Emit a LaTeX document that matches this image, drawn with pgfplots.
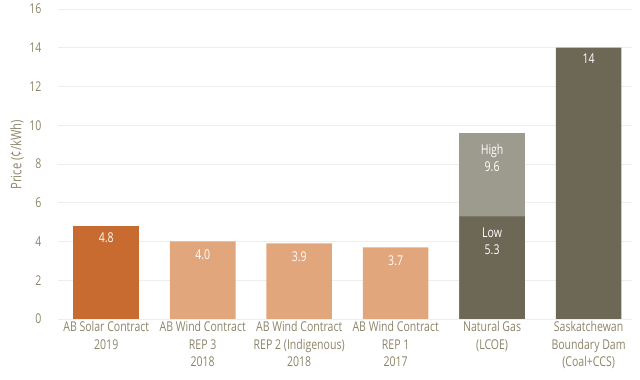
\documentclass[border=0pt]{standalone}
\usepackage{fontspec}
\setmainfont[FakeStretch=0.78]{Open Sans}
\usepackage{pgfplots}
\pgfplotsset{compat=1.18}
\definecolor{solar}{HTML}{C86B30}
\definecolor{wind}{HTML}{E2A67D}
\definecolor{darkc}{HTML}{6D6756}
\definecolor{lightc}{HTML}{9D9B8E}
\definecolor{txt}{HTML}{8C8569}
\definecolor{gridc}{HTML}{EEEEEA}
\begin{document}
\begin{tikzpicture}[x=1pt,y=1pt]
\useasboundingbox (0,0) rectangle (640,380);
\begin{axis}[
  at={(58pt,61pt)}, anchor=south west,
  scale only axis, width=574pt, height=310pt,
  xmin=-0.5, xmax=5.45, ymin=0, ymax=16,
  ytick={0,2,...,16},
  xtick={0,1,2,3,4,5},
  xticklabels={{AB Solar Contract\\2019},{AB Wind Contract\\REP 3\\2018},{AB Wind Contract\\REP 2 (Indigenous)\\2018},{AB Wind Contract\\REP 1\\2017},{Natural Gas\\(LCOE)},{Saskatchewan\\Boundary Dam\\(Coal+CCS)}},
  x tick label style={align=center, font=\fontsize{13.5}{17.5}\selectfont, text=txt, yshift=1pt},
  y tick label style={font=\fontsize{13.5}{15}\selectfont, text=txt, xshift=-13pt},
  /pgf/number format/assume math mode=true,
  major tick length=0pt,
  axis line style={draw=none},
  ymajorgrids, grid style={gridc, line width=0.8pt},
  ylabel={Price (¢/kWh)},
  ylabel style={font=\fontsize{14.5}{15}\selectfont, text=txt, at={(ticklabel cs:0.53)}},
  ylabel shift=-1pt,
  ybar, bar width=0.68, bar shift=0pt,
]
\addplot[fill=solar, draw=none] coordinates {(0,4.8)};
\addplot[fill=wind, draw=none] coordinates {(1,4.0) (2,3.9) (3,3.7)};
\addplot[fill=lightc, draw=none] coordinates {(4,9.6)};
\addplot[fill=darkc, draw=none] coordinates {(4,5.3) (5,14)};
\begin{scope}[every node/.style={text=white, font=\fontsize{13.5}{17}\selectfont, align=center, anchor=north}]
\node at (axis cs:0,4.8) [yshift=-3pt] {4.8};
\node at (axis cs:1,4.0) [yshift=-5pt] {4.0};
\node at (axis cs:2,3.9) [yshift=-5pt] {3.9};
\node at (axis cs:3,3.7) [yshift=-5pt] {3.7};
\node at (axis cs:4,9.6) [yshift=-8pt] {High\\9.6};
\node at (axis cs:4,5.3) [yshift=-8pt] {Low\\5.3};
\node at (axis cs:5,14) [yshift=-3pt] {14};
\end{scope}
\end{axis}
\end{tikzpicture}
\end{document}
